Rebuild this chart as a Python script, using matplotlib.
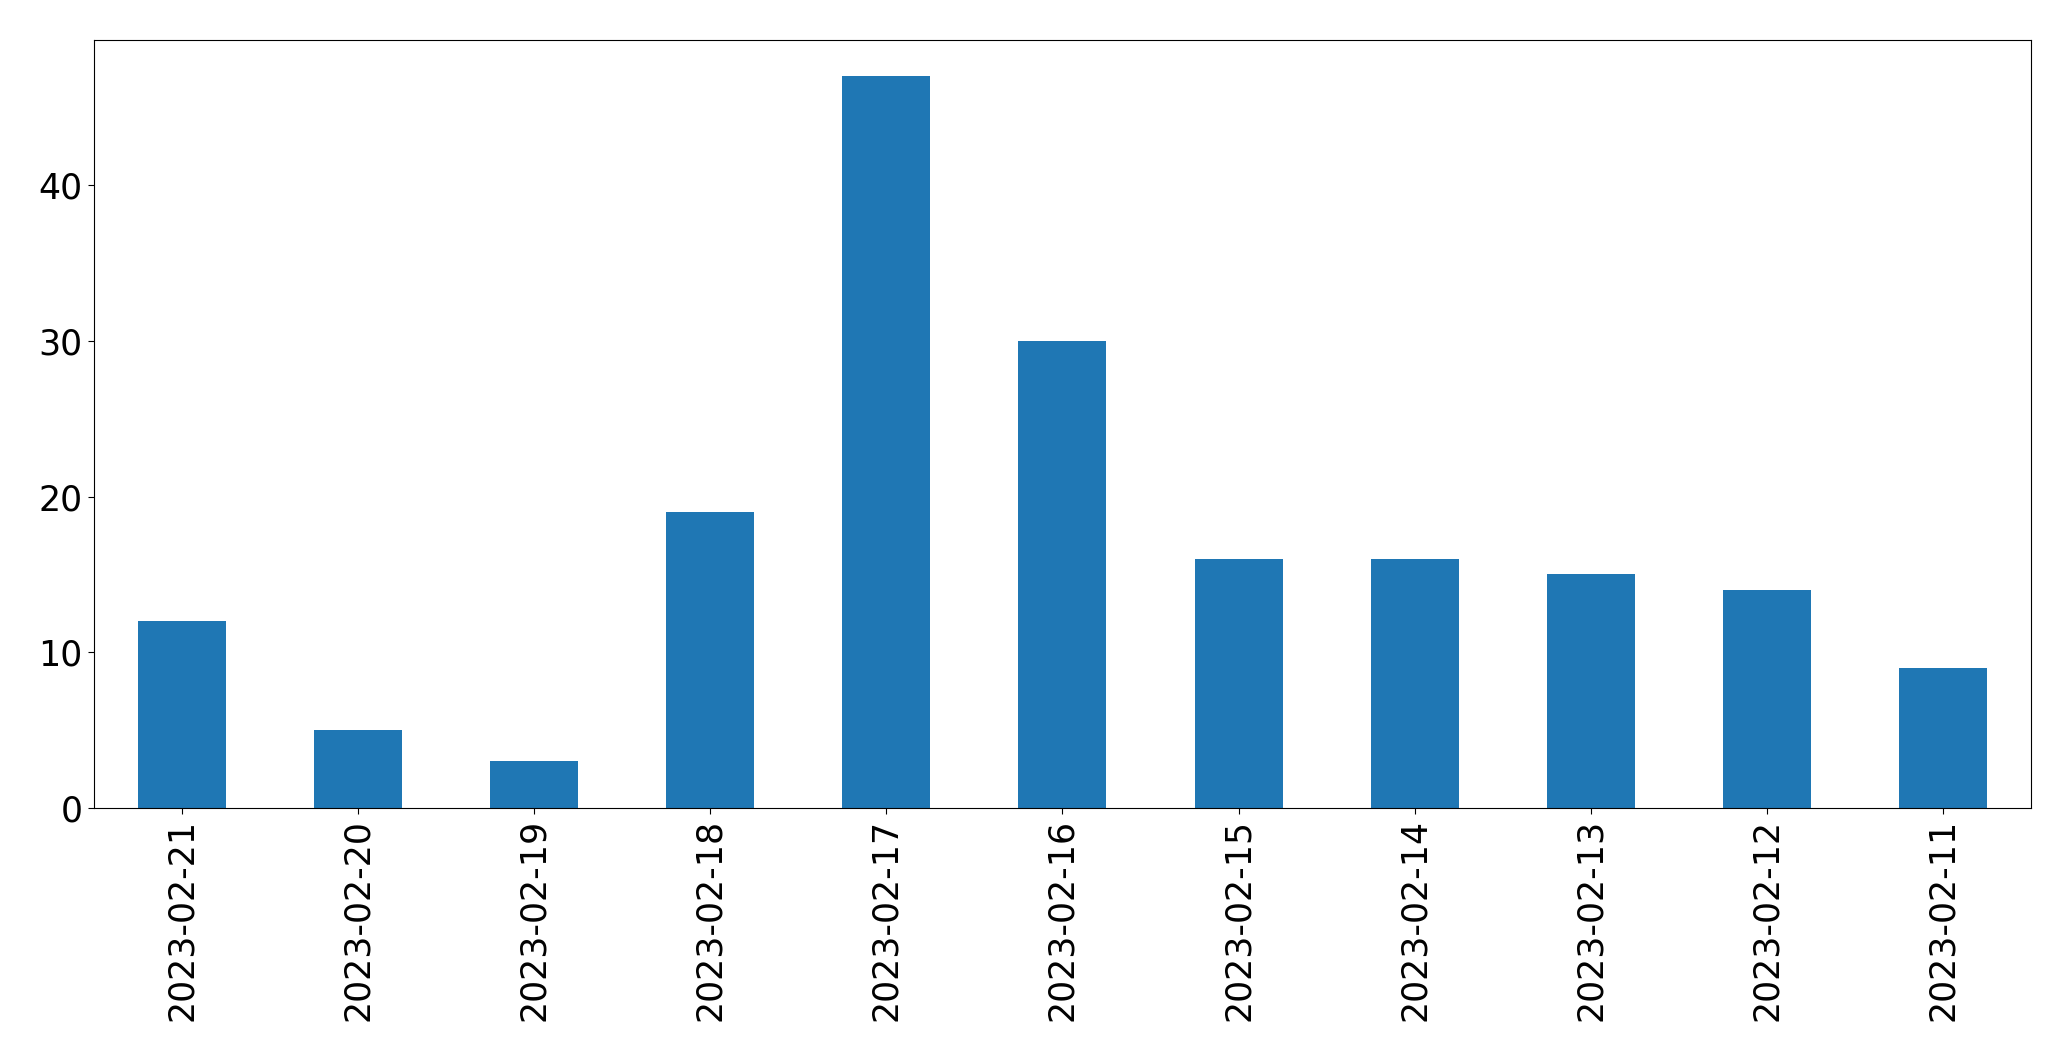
import matplotlib
matplotlib.use("Agg")
import matplotlib.pyplot as plt
import numpy as np

dates = ["2023-02-21", "2023-02-20", "2023-02-19", "2023-02-18", "2023-02-17",
         "2023-02-16", "2023-02-15", "2023-02-14", "2023-02-13", "2023-02-12",
         "2023-02-11"]
counts = [12, 5, 3, 19, 47, 30, 16, 16, 15, 14, 9]

fig = plt.figure(figsize=(20.71, 10.61), dpi=100)
ax = fig.add_axes([0.0453, 0.2384, 0.9354, 0.7243])
x = np.arange(len(dates))
ax.bar(x, counts, width=0.5, color="#1f77b4")
ax.set_xlim(-0.5, len(dates) - 0.5)
ax.set_ylim(0, max(counts) * 1.05)
ax.set_xticks(x)
ax.set_xticklabels(dates, rotation=90)
ax.set_yticks([0, 10, 20, 30, 40])
ax.tick_params(labelsize=25, length=4.4, pad=3.5)
fig.savefig("out.png", dpi=100)
